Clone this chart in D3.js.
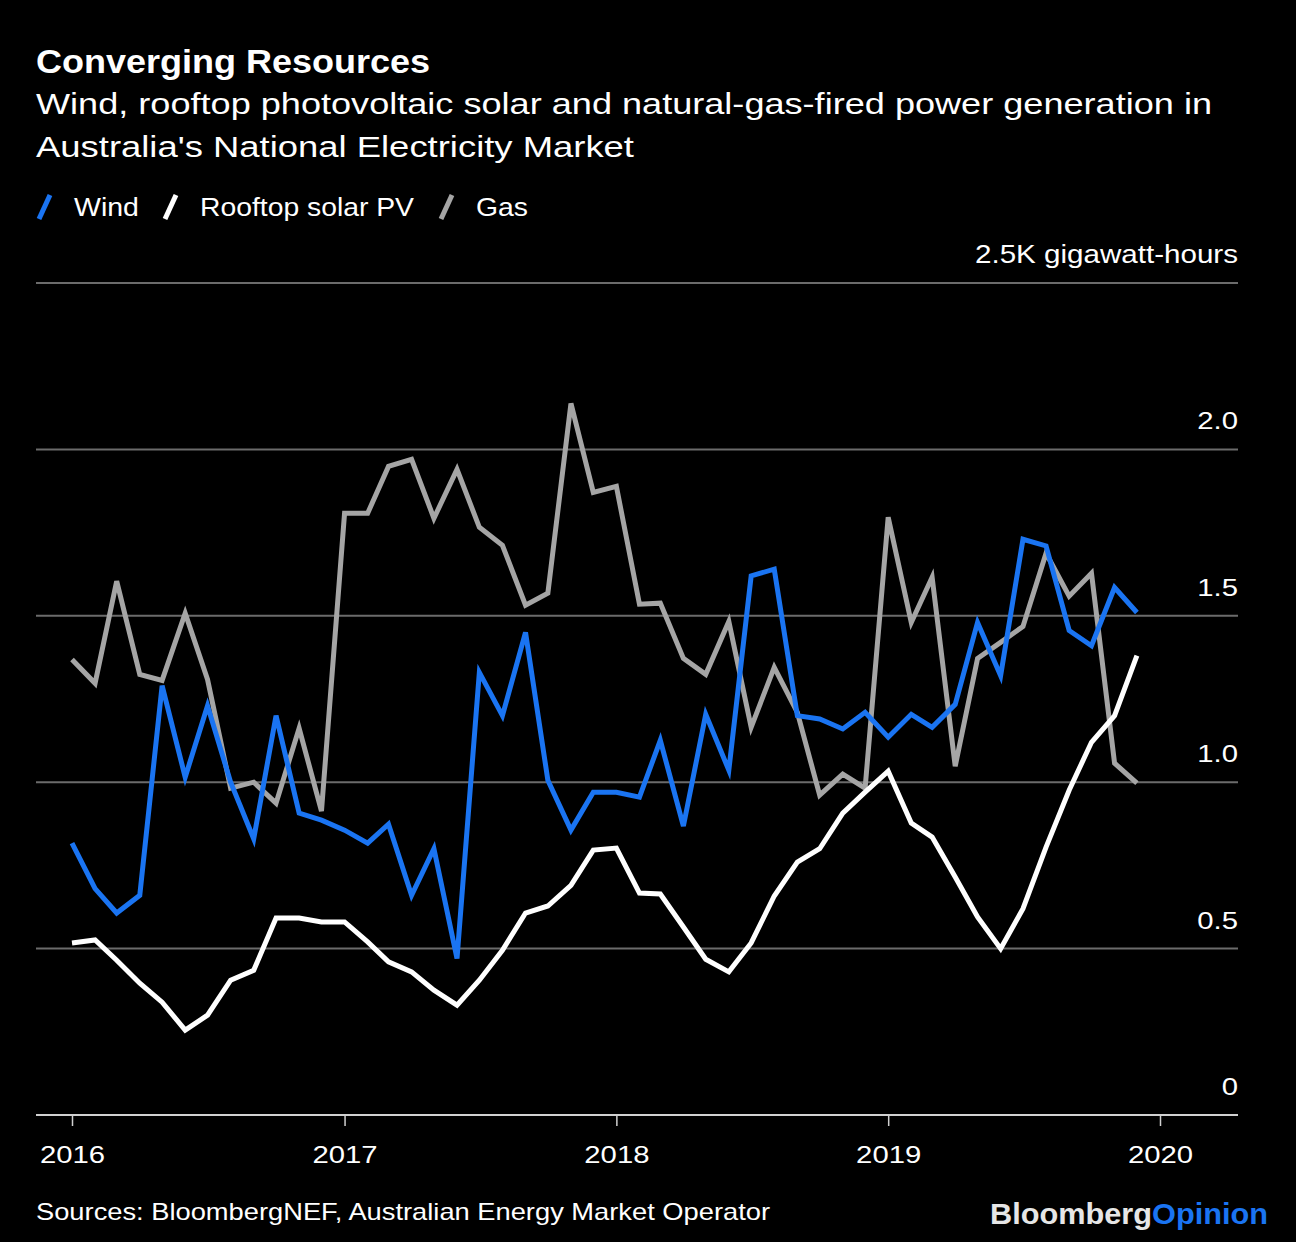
<!DOCTYPE html>
<html><head><meta charset="utf-8">
<script src="https://cdn.jsdelivr.net/npm/d3@7"></script>
<style>
html,body{margin:0;padding:0;background:#000;}
svg{display:block;font-family:"Liberation Sans",Arial,sans-serif;}
</style></head>
<body>
<script>
// Monthly data, Jan 2016 – Dec 2019 (thousand gigawatt-hours)
const months = d3.range(48).map(i => new Date(2016, i, 1));
const wind = [0.817,0.68,0.607,0.66,1.29,1.015,1.23,1.0,0.83,1.2,0.907,0.886,
  0.856,0.817,0.874,0.66,0.80,0.47,1.33,1.2,1.45,1.006,0.856,0.97,
  0.97,0.955,1.126,0.868,1.204,1.036,1.62,1.64,1.2,1.19,1.16,1.21,
  1.135,1.204,1.165,1.234,1.48,1.32,1.73,1.71,1.456,1.41,1.585,1.51];
const solar = [0.517,0.526,0.465,0.396,0.339,0.255,0.30,0.405,0.435,0.592,0.592,0.58,
  0.58,0.52,0.46,0.43,0.375,0.33,0.405,0.495,0.607,0.628,0.69,0.796,
  0.802,0.667,0.664,0.565,0.468,0.43,0.517,0.658,0.76,0.80,0.907,0.97,
  1.033,0.877,0.835,0.715,0.595,0.50,0.62,0.805,0.976,1.12,1.20,1.38];
const gas = [1.369,1.297,1.604,1.324,1.306,1.508,1.309,0.982,1.0,0.937,1.162,0.913,
  1.808,1.808,1.949,1.97,1.793,1.94,1.766,1.712,1.532,1.568,2.138,1.871,
  1.889,1.535,1.538,1.372,1.324,1.483,1.165,1.345,1.21,0.961,1.024,0.982,
  1.796,1.48,1.616,1.048,1.372,1.42,1.468,1.688,1.559,1.628,1.057,0.997];
const yTicks = [0, 0.5, 1.0, 1.5, 2.0, 2.5];
const yTickLabels = ["0", "0.5", "1.0", "1.5", "2.0", "2.5K gigawatt-hours"];
const xTicks = [2016, 2017, 2018, 2019, 2020];
const seriesNames = ["Wind", "Rooftop solar PV", "Gas"];
const seriesColors = ["#1a74f2", "#ffffff", "#a5a5a5"];

const W = 1296, H = 1242;
const svg = d3.select("body").append("svg").attr("width", W).attr("height", H);
svg.append("rect").attr("width", W).attr("height", H).attr("fill", "#000");

// stretch text horizontally to a target width (reference font is wider)
function fit(sel, width) {
  sel.attr("textLength", width).attr("lengthAdjust", "spacingAndGlyphs");
  return sel;
}
function widen(sel, k) {
  sel.each(function () {
    const w = this.getComputedTextLength();
    d3.select(this).attr("textLength", w * k).attr("lengthAdjust", "spacingAndGlyphs");
  });
  return sel;
}

const left = 36, right = 1238;
const x = d3.scaleTime().domain([new Date(2016,0,1), new Date(2020,0,1)]).range([72, 1160]);
const y = d3.scaleLinear().domain([0, 2.5]).range([1115, 283]);

// Title
fit(svg.append("text").attr("x", 36).attr("y", 73).attr("fill", "#fff")
  .attr("font-size", 33).attr("font-weight", "bold")
  .text("Converging Resources"), 394);
const sub = ["Wind, rooftop photovoltaic solar and natural-gas-fired power generation in",
             "Australia's National Electricity Market"];
const subW = [1176, 598];
sub.forEach((t, i) => fit(svg.append("text").attr("x", 36).attr("y", 114 + i * 43)
  .attr("fill", "#fff").attr("font-size", 30).text(t), subW[i]));

// Legend
const legX = [38, 164, 440];
const legW = [65, 214, 52];
seriesNames.forEach((n, i) => {
  const g = svg.append("g").attr("transform", `translate(${legX[i]},0)`);
  g.append("line").attr("x1", 1).attr("y1", 219).attr("x2", 12).attr("y2", 195)
    .attr("stroke", seriesColors[i]).attr("stroke-width", 5);
  fit(g.append("text").attr("x", 36).attr("y", 216).attr("fill", "#fff")
    .attr("font-size", 26).text(n), legW[i]);
});

// Grid + y labels
yTicks.forEach((t, i) => {
  if (t > 0) svg.append("line").attr("x1", left).attr("x2", right)
    .attr("y1", y(t)).attr("y2", y(t)).attr("stroke", "#6b6b6b").attr("stroke-width", 2);
  const lab = svg.append("text").attr("x", right).attr("y", y(t) - 20).attr("text-anchor", "end")
    .attr("fill", "#fff").attr("font-size", i === 5 ? 26 : 24).text(yTickLabels[i]);
  if (i === 5) fit(lab, 263); else widen(lab, 1.22);
});

// X axis
const xAxis = d3.axisBottom(x).tickValues(xTicks.map(v => new Date(v, 0, 1)))
  .tickFormat(d3.timeFormat("%Y")).tickSize(11).tickPadding(20);
const ax = svg.append("g").attr("transform", `translate(0,${y(0)})`).call(xAxis);
ax.select(".domain").remove();
ax.selectAll(".tick line").attr("stroke", "#d0d0d0").attr("stroke-width", 1.5);
ax.selectAll(".tick text").attr("fill", "#fff").attr("font-size", 24)
  .attr("font-family", "Liberation Sans, Arial, sans-serif");
widen(ax.selectAll(".tick text"), 1.22);
svg.append("line").attr("x1", left).attr("x2", right).attr("y1", y(0)).attr("y2", y(0))
  .attr("stroke", "#d0d0d0").attr("stroke-width", 2);

// Lines
const line = d3.line().x((d, i) => x(months[i])).y(d => y(d));
[gas, solar, wind].forEach((s, k) => {
  const idx = [2, 1, 0][k];
  svg.append("path").datum(s).attr("d", line).attr("fill", "none")
    .attr("stroke", seriesColors[idx]).attr("stroke-width", 5)
    .attr("stroke-linejoin", "miter").attr("stroke-linecap", "butt");
});

// Footer
fit(svg.append("text").attr("x", 36).attr("y", 1220).attr("fill", "#fff")
  .attr("font-size", 24).text("Sources: BloombergNEF, Australian Energy Market Operator"), 734);
const logo = svg.append("text").attr("x", 990).attr("y", 1224)
  .attr("font-size", 30).attr("font-weight", "bold");
logo.append("tspan").attr("fill", "#e6e6e6").text("Bloomberg");
logo.append("tspan").attr("fill", "#1a74f2").text("Opinion");
fit(logo, 278);
</script>
</body></html>
